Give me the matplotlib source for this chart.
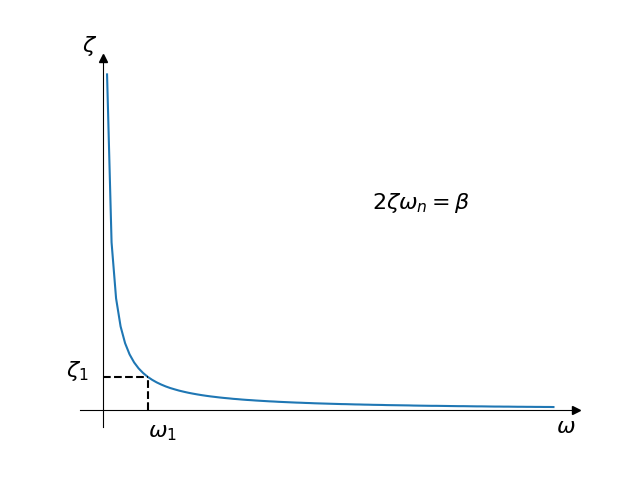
import numpy as np
import matplotlib.pyplot as plt

# curve (beta = 1)
omega = [0.1, 0.2, 0.3, 0.4, 0.5, 0.6, 0.7, 0.8, 0.9, 1.0,
         1.1, 1.2, 1.3, 1.4, 1.5, 1.6, 1.7, 1.8, 1.9, 2.0,
         2.1, 2.2, 2.3, 2.4, 2.5, 2.6, 2.7, 2.8, 2.9, 3.0,
         3.1, 3.2, 3.3, 3.4, 3.5, 3.6, 3.7, 3.8, 3.9, 4.0,
         4.1, 4.2, 4.3, 4.4, 4.5, 4.6, 4.7, 4.8, 4.9, 5.0,
         5.1, 5.2, 5.3, 5.4, 5.5, 5.6, 5.7, 5.8, 5.9, 6.0,
         6.1, 6.2, 6.3, 6.4, 6.5, 6.6, 6.7, 6.8, 6.9, 7.0,
         7.1, 7.2, 7.3, 7.4, 7.5, 7.6, 7.7, 7.8, 7.9, 8.0,
         8.1, 8.2, 8.3, 8.4, 8.5, 8.6, 8.7, 8.8, 8.9, 9.0,
         9.1, 9.2, 9.3, 9.4, 9.5, 9.6, 9.7, 9.8, 9.9, 10.0]
zeta = [5.0, 2.5, 1.667, 1.25, 1.0, 0.833, 0.714, 0.625, 0.556, 0.5,
        0.455, 0.417, 0.385, 0.357, 0.333, 0.313, 0.294, 0.278, 0.263, 0.25,
        0.238, 0.227, 0.217, 0.208, 0.2, 0.192, 0.185, 0.179, 0.172, 0.167,
        0.161, 0.156, 0.152, 0.147, 0.143, 0.139, 0.135, 0.132, 0.128, 0.125,
        0.122, 0.119, 0.116, 0.114, 0.111, 0.109, 0.106, 0.104, 0.102, 0.1,
        0.098, 0.096, 0.094, 0.093, 0.091, 0.089, 0.088, 0.086, 0.085, 0.083,
        0.082, 0.081, 0.079, 0.078, 0.077, 0.076, 0.075, 0.074, 0.072, 0.071,
        0.070, 0.069, 0.068, 0.068, 0.067, 0.066, 0.065, 0.064, 0.063, 0.063,
        0.062, 0.061, 0.060, 0.060, 0.059, 0.058, 0.057, 0.057, 0.056, 0.056,
        0.055, 0.054, 0.054, 0.053, 0.053, 0.052, 0.052, 0.051, 0.051, 0.05]

# the marked point
omega1 = 1.0
zeta1 = 0.5

fig, ax = plt.subplots(figsize=(6.4, 4.8), dpi=100)
ax.plot(omega, zeta)
ax.plot([0, omega1], [zeta1, zeta1], 'k--')
ax.plot([omega1, omega1], [0, zeta1], 'k--')

# axes through the origin with arrow heads
ax.spines['left'].set_position(('data', 0))
ax.spines['bottom'].set_position(('data', 0))
ax.spines['top'].set_visible(False)
ax.spines['right'].set_visible(False)
ax.plot(1, 0, '>k', transform=ax.get_yaxis_transform(), clip_on=False)
ax.plot(0, 1, '^k', transform=ax.get_xaxis_transform(), clip_on=False)
ax.set_xticks([])
ax.set_yticks([])

ax.text(-0.28, 5.43, r'$\zeta$', fontsize=16, ha='center', va='center')
ax.text(10.27, -0.24, r'$\omega$', fontsize=16, ha='center', va='center')
ax.text(-0.57, 0.58, r'$\zeta_1$', fontsize=16, ha='center', va='center')
ax.text(1.32, -0.33, r'$\omega_1$', fontsize=16, ha='center', va='center')
ax.text(7.06, 3.09, r'$2\zeta\omega_n = \beta$', fontsize=16, ha='center', va='center')

fig.savefig('out.png')
